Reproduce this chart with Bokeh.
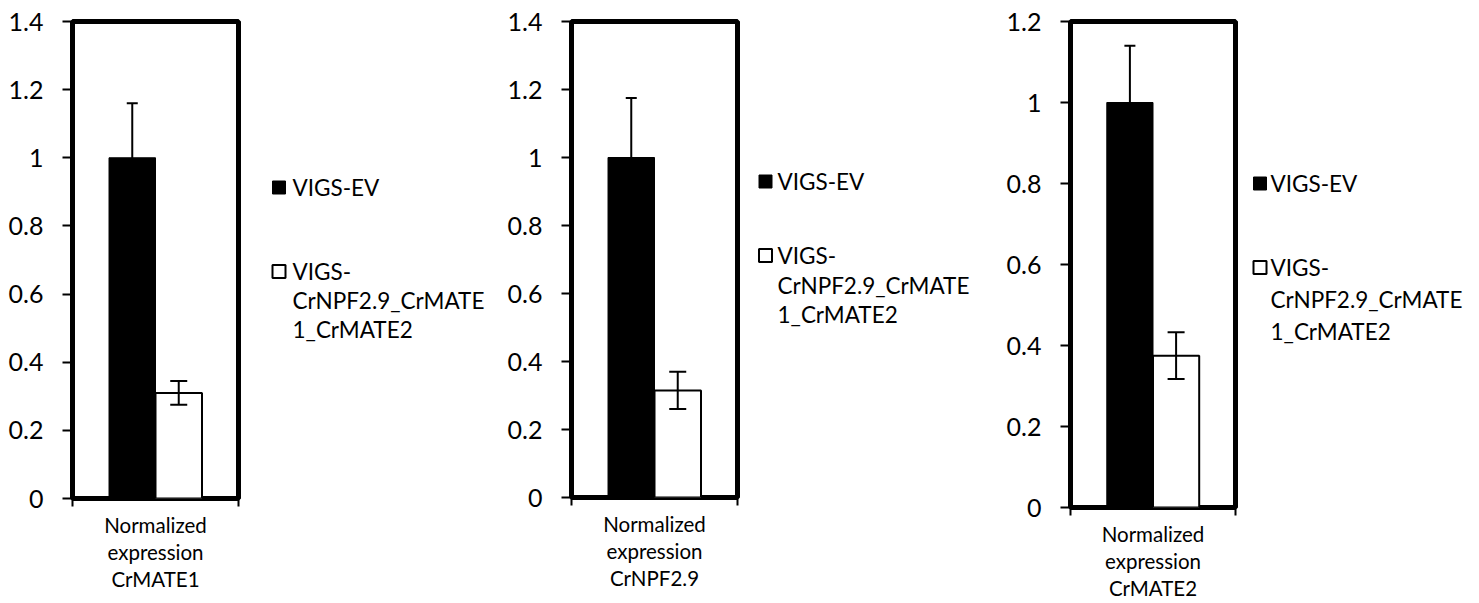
from bokeh.plotting import figure
from bokeh.layouts import row
from bokeh.models import (Range1d, FixedTicker, Whisker, ColumnDataSource, TeeHead)
from bokeh.core.properties import value
from bokeh.embed import file_html
from bokeh.resources import INLINE

# ---------------- data ----------------
categories = ["Normalized\nexpression\nCrMATE1",
              "Normalized\nexpression\nCrNPF2.9",
              "Normalized\nexpression\nCrMATE2"]
series = ["VIGS-EV", "VIGS-\nCrNPF2.9_CrMATE\n1_CrMATE2"]
series_colors = ["black", "white"]
ev_values = [1.0, 1.0, 1.0]
ev_errors = [0.16, 0.175, 0.14]
kd_values = [0.31, 0.315, 0.375]
kd_errors = [0.035, 0.055, 0.058]
y_max = [1.4, 1.4, 1.2]
y_ticks = [[0, 0.2, 0.4, 0.6, 0.8, 1, 1.2, 1.4],
           [0, 0.2, 0.4, 0.6, 0.8, 1, 1.2, 1.4],
           [0, 0.2, 0.4, 0.6, 0.8, 1, 1.2]]
y_tick_labels = [["0", "0.2", "0.4", "0.6", "0.8", "1", "1.2", "1.4"],
                 ["0", "0.2", "0.4", "0.6", "0.8", "1", "1.2", "1.4"],
                 ["0", "0.2", "0.4", "0.6", "0.8", "1", "1.2"]]

# ---------------- layout ----------------
FONT = "Lato"
TOTAL_H = 603
BAR_W = 0.28
CENTER = 0.5
LEG_SHIFT = 22   # measured vertical offset of the legend panel's frame
panels = [
    dict(left=72, fw=166, top=21, fh=477, leg_w=256,
         gx=36.5, tx=50, y1=188, y2=272, dy=29),
    dict(left=73, fw=166, top=21, fh=476, leg_w=259,
         gx=24, tx=36, y1=182, y2=256, dy=29.5),
    dict(left=70, fw=165, top=19, fh=486, leg_w=240,
         gx=20.5, tx=31, y1=184, y2=268, dy=32),
]
RIGHT_PAD = 4

children = []
for i, cfg in enumerate(panels):
    bottom = TOTAL_H - cfg["top"] - cfg["fh"]
    p = figure(frame_width=cfg["fw"], frame_height=cfg["fh"],
               min_border_left=cfg["left"], min_border_right=RIGHT_PAD,
               min_border_top=cfg["top"], min_border_bottom=bottom,
               x_range=Range1d(0, 1), y_range=Range1d(0, y_max[i]),
               title=None, output_backend="svg", toolbar_location=None)
    p.xgrid.visible = False
    p.ygrid.visible = False
    p.outline_line_color = "black"
    p.outline_line_width = 5
    p.background_fill_color = "white"
    p.border_fill_color = "white"

    src_ev = ColumnDataSource(dict(x=[CENTER - BAR_W / 2], top=[ev_values[i]],
                                   upper=[ev_values[i] + ev_errors[i]],
                                   lower=[ev_values[i] - ev_errors[i]]))
    src_kd = ColumnDataSource(dict(x=[CENTER + BAR_W / 2], top=[kd_values[i]],
                                   upper=[kd_values[i] + kd_errors[i]],
                                   lower=[kd_values[i] - kd_errors[i]]))
    p.vbar(x="x", top="top", bottom=0, width=BAR_W, source=src_ev,
           fill_color=series_colors[0], line_color="black", line_width=1)
    p.vbar(x="x", top="top", bottom=0, width=BAR_W, source=src_kd,
           fill_color=series_colors[1], line_color="black", line_width=2)

    for src, head in ((src_ev, 11), (src_kd, 17)):
        w = Whisker(source=src, base="x", upper="upper", lower="lower",
                    dimension="height", line_color="black", line_width=2,
                    level="annotation",
                    upper_head=TeeHead(size=head, line_color="black", line_width=2),
                    lower_head=TeeHead(size=head, line_color="black", line_width=2))
        p.add_layout(w)

    # y axis
    ya = p.yaxis[0]
    ya.ticker = FixedTicker(ticks=y_ticks[i])
    ya.major_label_overrides = dict(zip(y_ticks[i], y_tick_labels[i]))
    ya.minor_tick_line_color = None
    ya.major_tick_in = 0
    ya.major_tick_out = 10
    ya.major_tick_line_width = 2
    ya.major_tick_line_color = "black"
    ya.axis_line_color = None
    ya.major_label_text_font = FONT
    ya.major_label_text_font_size = "25px"
    ya.major_label_text_color = "black"
    ya.major_label_standoff = 19

    # x axis: ticks at the plot-area edges, category text as axis label
    xa = p.xaxis[0]
    xa.ticker = FixedTicker(ticks=[0, 1])
    xa.major_label_overrides = {0: "", 1: ""}
    xa.major_label_text_font_size = "0px"
    xa.minor_tick_line_color = None
    xa.major_tick_in = 0
    xa.major_tick_out = 8
    xa.major_tick_line_width = 2
    xa.major_tick_line_color = "black"
    xa.axis_line_color = None
    xa.axis_label = categories[i]
    xa.axis_label_text_font = FONT
    xa.axis_label_text_font_size = "20.5px"
    xa.axis_label_text_font_style = "normal"
    xa.axis_label_text_color = "black"
    xa.axis_label_text_line_height = 1.13
    xa.axis_label_standoff = 6
    children.append(p)

    # legend panel (drawn in pixel coordinates, y downwards)
    lw = cfg["leg_w"]
    lp = figure(frame_width=lw, frame_height=TOTAL_H,
                x_range=Range1d(0, lw),
                y_range=Range1d(TOTAL_H + LEG_SHIFT, LEG_SHIFT),
                min_border_left=0, min_border_right=0,
                min_border_top=0, min_border_bottom=0,
                x_axis_location=None, y_axis_location=None, title=None,
                output_backend="svg", toolbar_location=None)
    lp.outline_line_color = None
    lp.background_fill_color = "white"
    lp.border_fill_color = "white"
    for g in lp.grid:
        g.visible = False
    lp.rect(x=[cfg["gx"], cfg["gx"]], y=[cfg["y1"], cfg["y2"]],
            width=13, height=13, width_units="screen", height_units="screen",
            fill_color=series_colors, line_color="black", line_width=[1, 2])
    lines = series[1].split("\n")
    ys = [cfg["y1"]] + [cfg["y2"] + k * cfg["dy"] for k in range(len(lines))]
    texts = [series[0]] + lines
    lp.text(x=[cfg["tx"]] * len(texts), y=ys, text=texts,
            text_font=value(FONT), text_font_size=value("22.5px"),
            text_baseline="middle", text_align="left", text_color="black")
    children.append(lp)

layout = row(*children, spacing=0)
open("out.html", "w").write(file_html(layout, INLINE))
